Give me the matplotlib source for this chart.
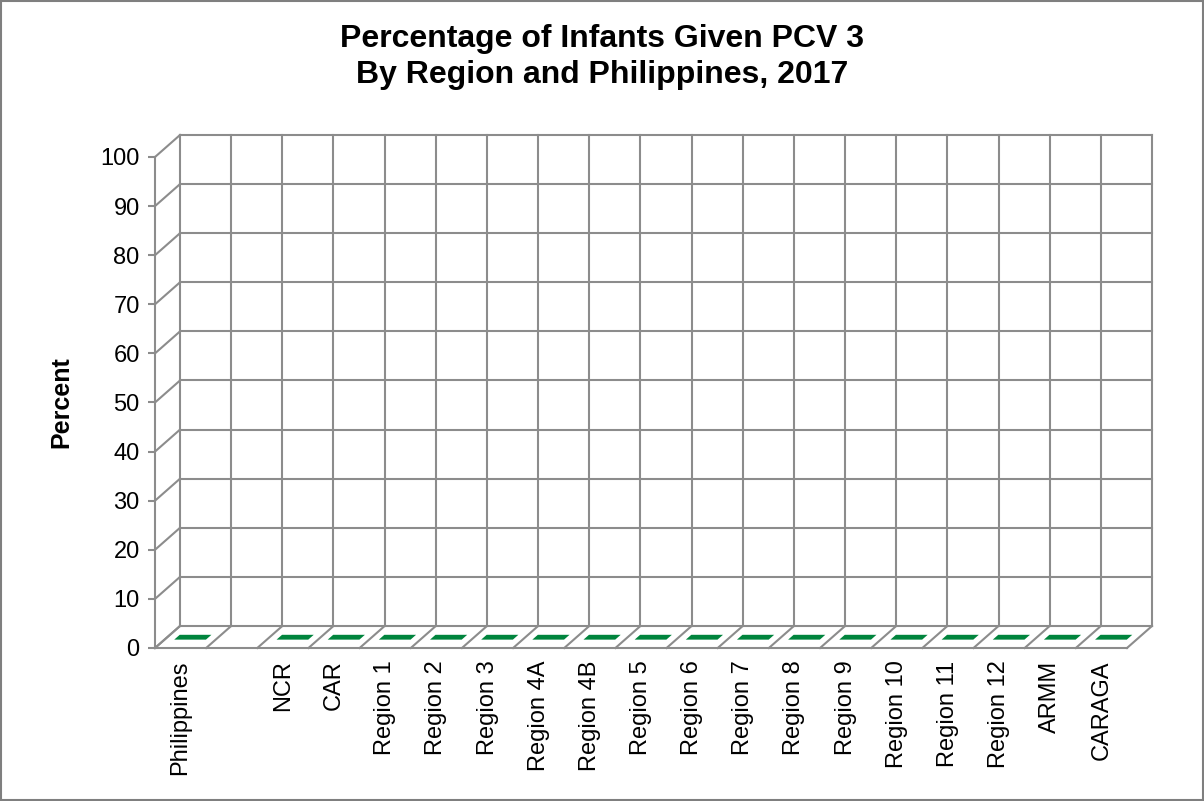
import matplotlib
matplotlib.use("Agg")
import matplotlib.pyplot as plt
from matplotlib.transforms import IdentityTransform
from matplotlib.patches import Polygon, Rectangle

# Data (PCV 3 values are all zero / not reported; blank slot is a spacer)
categories = ['Philippines', '', 'NCR', 'CAR', 'Region 1', 'Region 2', 'Region 3',
              'Region 4A', 'Region 4B', 'Region 5', 'Region 6', 'Region 7',
              'Region 8', 'Region 9', 'Region 10', 'Region 11', 'Region 12',
              'ARMM', 'CARAGA']
values = [0, None, 0, 0, 0, 0, 0, 0, 0, 0, 0, 0, 0, 0, 0, 0, 0, 0, 0]
y_ticks = list(range(0, 101, 10))

plt.rcParams['font.family'] = ['Liberation Sans', 'DejaVu Sans']

GRID = '#8c8c8c'
GREEN = '#00843d'
DX, DY = 25, 22  # depth offset of the back wall, pixels

fig = plt.figure(figsize=(12.04, 8.01), dpi=100)
ax = fig.add_axes([155 / 1204, 153 / 801, 972 / 1204, 491 / 801])
ax.set_autoscale_on(False)
n = len(categories)
ax.set_xlim(-0.5, n - 0.5)
ax.set_ylim(0, 100)
ax.set_facecolor('none')


def to_px(x, y, d):
    px, py = ax.transData.transform((x, y))
    return px + DX * d, py + DY * d


def line3d(pts, **kw):
    xs, ys = zip(*[to_px(*p) for p in pts])
    ax.plot(xs, ys, transform=IdentityTransform(), clip_on=False,
            color=GRID, lw=1.5, solid_capstyle='projecting', zorder=1, **kw)


left, right = -0.5, n - 0.5
# back wall horizontal gridlines + side wall diagonals
for v in y_ticks:
    line3d([(left, v, 1), (right, v, 1)])
    line3d([(left, v, 0), (left, v, 1)])
# back wall vertical lines + floor diagonals
for b in range(n + 1):
    xb = b - 0.5
    line3d([(xb, 0, 1), (xb, 100, 1)])
    line3d([(xb, 0, 0), (xb, 0, 1)])

# bars (zero height -> only top face visible)
w = 0.62
for i, v in enumerate(values):
    if v is None:
        continue
    pts = [to_px(i - w / 2, v, 0.38), to_px(i + w / 2, v, 0.38),
           to_px(i + w / 2, v, 0.6), to_px(i - w / 2, v, 0.6)]
    ax.add_patch(Polygon(pts, closed=True, transform=IdentityTransform(),
                         facecolor=GREEN, edgecolor='none', clip_on=False, zorder=3))

for s in ['top', 'right']:
    ax.spines[s].set_visible(False)
for s in ['left', 'bottom']:
    ax.spines[s].set_color(GRID)
    ax.spines[s].set_linewidth(1.5)

ax.set_yticks(y_ticks)
ax.tick_params(axis='y', direction='out', length=5, width=1.5, color=GRID,
               labelsize=17, pad=6)
ax.set_xticks(range(n))
ax.set_xticklabels(categories, rotation=90, fontsize=17)
ax.tick_params(axis='x', length=0, pad=9)

ax.set_ylabel('Percent', fontsize=18, fontweight='bold')
ax.yaxis.set_label_coords(-0.084, 0.5)

fig.text(0.5, 1 - 57 / 801, 'Percentage of Infants Given PCV 3\nBy Region and Philippines, 2017',
         ha='center', va='center', fontsize=23, fontweight='bold', linespacing=1.3)

fig.patches.append(Rectangle((0.001, 0.001), 0.998, 0.998, transform=fig.transFigure,
                             fill=False, edgecolor='#7f7f7f', lw=1.5))

fig.savefig('out.png', dpi=100)
